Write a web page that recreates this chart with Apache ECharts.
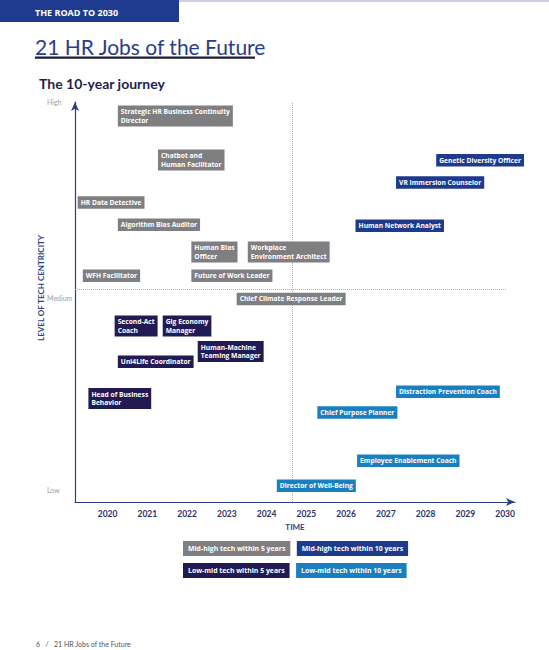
<!DOCTYPE html>
<html>
<head>
<meta charset="utf-8">
<script src="https://cdn.jsdelivr.net/npm/echarts@6/dist/echarts.min.js"></script>
<style>
html, body { margin: 0; padding: 0; background: #fff; }
#chart { width: 549px; height: 650px; }
</style>
</head>
<body>
<div id="chart"></div>
<script>
// categories (legend) and their colours
const groups = [
    'Mid-high tech within 5 years',
    'Mid-high tech within 10 years',
    'Low-mid tech within 5 years',
    'Low-mid tech within 10 years'
]
const groupColors = ['#7f7f81', '#1e3a8c', '#221a53', '#1a7fc1']

// axis ticks
const years = [2020, 2021, 2022, 2023, 2024, 2025, 2026, 2027, 2028, 2029, 2030]
const levelNames = ['Low', 'Medium', 'High']
const levelValues = [3, 51, 100]

// dividers: 5-year mark and medium tech line
const fiveYearMark = 2024.65
const mediumLine = 53.25

// jobs: [year, tech level, title]  (point = top-left corner of the tag)
const midHigh5 = [
    [2020.27, 99.0, 'Strategic HR Business Continuity\nDirector'],
    [2021.28, 88.0, 'Chatbot and\nHuman Facilitator'],
    [2019.26, 76.3, 'HR Data Detective'],
    [2020.27, 70.75, 'Algorithm Bias Auditor'],
    [2022.12, 65.0, 'Human Bias\nOfficer'],
    [2023.54, 65.0, 'Workplace\nEnvironment Architect'],
    [2019.39, 58.0, 'WFH Facilitator'],
    [2022.12, 58.0, 'Future of Work Leader'],
    [2023.26, 52.2, 'Chief Climate Response Leader']
]
const midHigh10 = [
    [2028.28, 86.9, 'Genetic Diversity Officer'],
    [2027.27, 81.3, 'VR Immersion Counselor'],
    [2026.25, 70.5, 'Human Network Analyst']
]
const lowMid5 = [
    [2020.19, 46.5, 'Second-Act\nCoach'],
    [2021.40, 46.5, 'Gig Economy\nManager'],
    [2022.28, 40.1, 'Human-Machine\nTeaming Manager'],
    [2020.27, 36.5, 'Uni4Life Coordinator'],
    [2019.53, 28.4, 'Head of Business\nBehavior']
]
const lowMid10 = [
    [2027.27, 29.0, 'Distraction Prevention Coach'],
    [2025.29, 23.8, 'Chief Purpose Planner'],
    [2026.29, 11.75, 'Employee Enablement Coach'],
    [2024.27, 5.5, 'Director of Well-Being']
]

const allJobs = [midHigh5, midHigh10, lowMid5, lowMid10]

const navy = '#2a3f84'
const font = 'Lato, "Open Sans", sans-serif'
const tagFont = '"Open Sans", Lato, sans-serif'

let myChart = echarts.init(document.getElementById('chart'), null, { renderer: 'svg' })

const makeSeries = (data, i) => ({
    name: groups[i],
    type: 'scatter',
    z: 5,
    data: data,
    symbolSize: 1,
    itemStyle: { color: 'rgba(0,0,0,0)', opacity: 1 },
    animation: false,
    silent: true,
    label: {
        show: true,
        position: [0, 0],
        formatter: p => p.data[2],
        color: '#fff',
        opacity: 1,
        fontFamily: tagFont,
        fontWeight: 'bold',
        fontSize: 6.7,
        lineHeight: 8.5,
        padding: [2, 3],
        backgroundColor: groupColors[i]
    }
})

// dotted quadrant lines, drawn under the tags
const dividers = {
    name: 'dividers',
    type: 'scatter',
    z: 1,
    data: [],
    silent: true,
    markLine: {
        silent: true,
        symbol: 'none',
        animation: false,
        label: { show: false },
        lineStyle: { type: 'dotted', color: '#b0b0b0', width: 1, opacity: 1 },
        data: [
            { xAxis: fiveYearMark },
            [{ coord: [2019.18, mediumLine] }, { coord: [2030.05, mediumLine] }]
        ]
    }
}

const legendItem = i => ({
    name: groups[i],
    textStyle: {
        color: '#fff',
        backgroundColor: groupColors[i],
        padding: [4, 5],
        fontFamily: tagFont,
        fontWeight: 'bold',
        fontSize: 6.9
    }
})

const option = {
    animation: false,
    grid: { left: 75, right: 34, top: 102, bottom: 148 },
    xAxis: {
        type: 'value',
        min: 2019.18,
        max: 2030.25,
        name: 'TIME',
        nameLocation: 'middle',
        nameGap: 20,
        nameTextStyle: { color: navy, fontFamily: font, fontWeight: 'bold', fontSize: 8 },
        axisLine: { show: true, symbol: ['none', 'arrow'], symbolSize: [6, 9], lineStyle: { color: navy, width: 1.2 } },
        axisTick: { show: false },
        splitLine: { show: false },
        axisLabel: {
            customValues: years,
            margin: 7,
            color: '#2b3266',
            fontFamily: font,
            fontWeight: 'bold',
            fontSize: 8.5,
            formatter: v => String(v)
        }
    },
    yAxis: {
        type: 'value',
        min: 0,
        max: 100,
        axisLine: { show: true, symbol: ['none', 'arrow'], symbolSize: [6, 9], lineStyle: { color: navy, width: 1.2 } },
        axisTick: { show: false },
        splitLine: { show: false },
        axisLabel: {
            customValues: levelValues,
            align: 'left',
            margin: 28,
            color: '#a0a0a0',
            fontFamily: font,
            fontSize: 7,
            formatter: v => levelNames[levelValues.indexOf(v)]
        }
    },
    legend: [
        {
            left: 173, top: 536, orient: 'horizontal', itemGap: 1.5,
            icon: 'none', itemWidth: 0, itemHeight: 0, selectedMode: false,
            data: [legendItem(0), legendItem(1)]
        },
        {
            left: 173, top: 558, orient: 'horizontal', itemGap: 1.5,
            icon: 'none', itemWidth: 0, itemHeight: 0, selectedMode: false,
            data: [legendItem(2), legendItem(3)]
        }
    ],
    graphic: [
        { type: 'rect', shape: { x: 0, y: 0, width: 179, height: 22 }, style: { fill: '#1f3b8f' } },
        { type: 'line', shape: { x1: 179, y1: 1, x2: 549, y2: 1 }, style: { stroke: '#9aa0c4', lineWidth: 1 } },
        { type: 'text', x: 35, y: 12, style: { text: 'THE ROAD TO 2030', fill: '#fff', font: 'bold 9px ' + tagFont, verticalAlign: 'middle' } },
        { type: 'text', x: 35, y: 46, style: { text: '21 HR Jobs of the Future', fill: '#2a3d8c', font: '21px ' + font, verticalAlign: 'middle' } },
        { type: 'rect', shape: { x: 35, y: 56.5, width: 220, height: 2.3 }, style: { fill: '#1c1c2c' } },
        { type: 'text', x: 39, y: 83, style: { text: 'The 10-year journey', fill: '#1d1f4d', font: 'bold 14px ' + font, verticalAlign: 'middle' } },
        { type: 'text', x: 41, y: 288, rotation: Math.PI / 2, style: { text: 'LEVEL OF TECH CENTRICITY', fill: navy, font: 'bold 8px ' + font, align: 'center', verticalAlign: 'middle' } },
        { type: 'text', x: 36, y: 644, style: { text: '6   /   21 HR Jobs of the Future', fill: '#555', font: '7px ' + font, verticalAlign: 'middle' } }
    ],
    series: [dividers].concat(allJobs.map(makeSeries))
}

myChart.setOption(option)
</script>
</body>
</html>
